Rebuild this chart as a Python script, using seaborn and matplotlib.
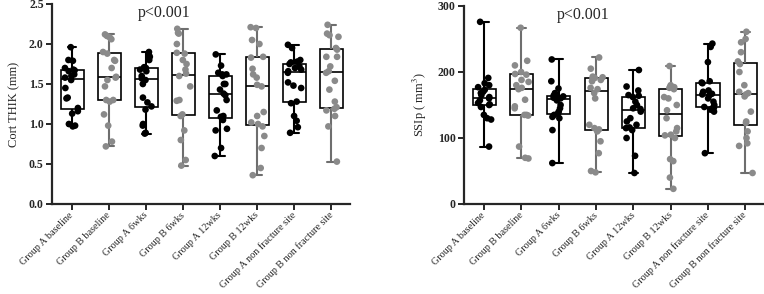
import numpy as np
import pandas as pd
import matplotlib
matplotlib.use("Agg")
import matplotlib.pyplot as plt
import seaborn as sns

categories = ["Group A baseline", "Group B baseline", "Group A 6wks", "Group B 6wks",
              "Group A 12wks", "Group B 12wks", "Group A non fracture site",
              "Group B non fracture site"]
groups = ["A", "B", "A", "B", "A", "B", "A", "B"]

cort_a_base = [0.97, 0.98, 1.00, 1.13, 1.16, 1.20, 1.32, 1.33, 1.45, 1.55, 1.58, 1.60, 1.62, 1.66, 1.67, 1.68, 1.70, 1.79, 1.80, 1.96]
cort_b_base = [0.72, 0.78, 0.98, 1.12, 1.28, 1.30, 1.30, 1.47, 1.55, 1.58, 1.59, 1.70, 1.79, 1.80, 1.88, 1.90, 2.06, 2.08, 2.10, 2.12]
cort_a_6 = [0.88, 0.89, 0.98, 1.00, 1.18, 1.22, 1.27, 1.33, 1.50, 1.55, 1.57, 1.60, 1.66, 1.68, 1.70, 1.71, 1.80, 1.84, 1.86, 1.90]
cort_b_6 = [0.48, 0.55, 0.80, 0.92, 1.10, 1.12, 1.29, 1.30, 1.47, 1.60, 1.63, 1.68, 1.75, 1.80, 1.88, 1.89, 2.00, 2.13, 2.14, 2.19]
cort_a_12 = [0.60, 0.70, 0.92, 0.94, 1.05, 1.09, 1.10, 1.17, 1.30, 1.36, 1.38, 1.43, 1.50, 1.50, 1.60, 1.62, 1.62, 1.64, 1.73, 1.87]
cort_b_12 = [0.36, 0.45, 0.70, 0.85, 0.97, 1.00, 1.02, 1.10, 1.15, 1.47, 1.49, 1.58, 1.62, 1.69, 1.83, 1.84, 2.00, 2.05, 2.20, 2.21]
cort_a_nf = [0.89, 0.96, 1.04, 1.10, 1.26, 1.28, 1.45, 1.48, 1.52, 1.64, 1.66, 1.68, 1.70, 1.72, 1.75, 1.77, 1.78, 1.80, 1.95, 1.99]
cort_b_nf = [0.53, 0.97, 1.10, 1.17, 1.19, 1.21, 1.28, 1.43, 1.54, 1.64, 1.66, 1.72, 1.84, 1.84, 1.93, 1.95, 2.09, 2.11, 2.13, 2.24]

ssip_a_base = [87, 128, 130, 135, 147, 150, 151, 153, 157, 160, 162, 165, 168, 170, 173, 177, 180, 183, 191, 276]
ssip_b_base = [69, 70, 87, 134, 135, 135, 145, 148, 158, 174, 176, 180, 185, 188, 196, 197, 200, 210, 217, 267]
ssip_a_6 = [62, 112, 130, 132, 135, 137, 140, 145, 150, 157, 160, 161, 162, 163, 164, 165, 168, 175, 186, 219]
ssip_b_6 = [48, 50, 77, 95, 110, 113, 115, 120, 160, 168, 174, 176, 186, 188, 190, 191, 192, 193, 205, 222]
ssip_a_12 = [47, 73, 100, 112, 115, 116, 120, 125, 130, 140, 144, 145, 150, 155, 162, 164, 165, 172, 178, 203]
ssip_b_12 = [23, 40, 65, 68, 100, 104, 105, 110, 115, 130, 142, 150, 160, 162, 174, 176, 177, 178, 180, 209]
ssip_a_nf = [77, 140, 143, 145, 146, 147, 150, 155, 160, 164, 166, 167, 170, 172, 183, 184, 186, 215, 238, 243]
ssip_b_nf = [47, 88, 92, 100, 110, 123, 125, 140, 163, 166, 168, 170, 180, 200, 212, 216, 230, 245, 250, 261]

cort_sets = [cort_a_base, cort_b_base, cort_a_6, cort_b_6, cort_a_12, cort_b_12, cort_a_nf, cort_b_nf]
ssip_sets = [ssip_a_base, ssip_b_base, ssip_a_6, ssip_b_6, ssip_a_12, ssip_b_12, ssip_a_nf, ssip_b_nf]

def to_df(sets):
    rows = []
    for cat, grp, vals in zip(categories, groups, sets):
        for v in vals:
            rows.append((cat, grp, v))
    return pd.DataFrame(rows, columns=["cat", "grp", "val"])

df_cort = to_df(cort_sets)
df_ssip = to_df(ssip_sets)

sns.set_style("ticks")
plt.rcParams["font.family"] = ["Liberation Serif", "DejaVu Serif"]
plt.rcParams["mathtext.fontset"] = "stix"

BLACK = "#000000"
GRAY = "#8a8a8a"
WGRAY = "#6e6e6e"

np.random.seed(3)

fig = plt.figure(figsize=(7.64, 2.94), dpi=100)
bottom = 1 - 204 / 294
ax1 = fig.add_axes([52 / 764, bottom, (350 - 52) / 764, 200 / 294])
ax2 = fig.add_axes([464 / 764, bottom, (764 - 464) / 764, 198 / 294])

def draw(ax, df, ylim, yticks, ylabel, fmt, px):
    sns.boxplot(data=df, x="cat", y="val", hue="grp", order=categories,
                palette={"A": "white", "B": "white"}, linecolor="black",
                dodge=False, whis=(0, 100), showfliers=False, width=0.62,
                linewidth=1.2, legend=False, ax=ax, zorder=1)
    if len(ax.containers) >= 2:
        cb = ax.containers[1]
        for ln in list(cb.whiskers) + list(cb.caps):
            ln.set_color(WGRAY)
    for cont in ax.containers:
        for ln in list(cont.whiskers) + list(cont.caps):
            ln.set_linewidth(1.5)
        for ln in cont.caps:
            c = np.mean(ln.get_xdata())
            ln.set_xdata([c - 0.12, c + 0.12])
    sns.stripplot(data=df, x="cat", y="val", hue="grp", order=categories,
                  palette={"A": BLACK, "B": GRAY}, size=4.8, jitter=0.2,
                  legend=False, ax=ax, zorder=3)
    ax.set_ylim(*ylim)
    ax.set_yticks(yticks)
    ax.set_yticklabels([fmt(t) for t in yticks], fontweight="bold", fontsize=8.5)
    ax.set_xlim(-0.54, 7.5)
    ax.set_xlabel("")
    ax.set_ylabel(ylabel, fontsize=9, labelpad=6)
    ax.set_xticks(range(len(categories)))
    ax.set_xticklabels(categories, rotation=45, ha="right", va="center",
                       rotation_mode="anchor", fontsize=7.3)
    for s in ["top", "right"]:
        ax.spines[s].set_visible(False)
    for s in ["left", "bottom"]:
        ax.spines[s].set_linewidth(1.6)
    ax.tick_params(axis="both", width=1.4, length=4, pad=2)
    ax.tick_params(axis="x", pad=3)
    ax.text(px, 0.995, "p<0.001", transform=ax.transAxes, ha="center", va="top", fontsize=11.5)

draw(ax1, df_cort, (0, 2.5), [0, 0.5, 1.0, 1.5, 2.0, 2.5], "Cort THIK (mm)", lambda t: f"{t:.1f}", 0.376)
draw(ax2, df_ssip, (0, 300), [0, 100, 200, 300], r"SSIp ( mm$^3$)", lambda t: f"{int(t)}", 0.397)

fig.savefig("out.png", dpi=100)
